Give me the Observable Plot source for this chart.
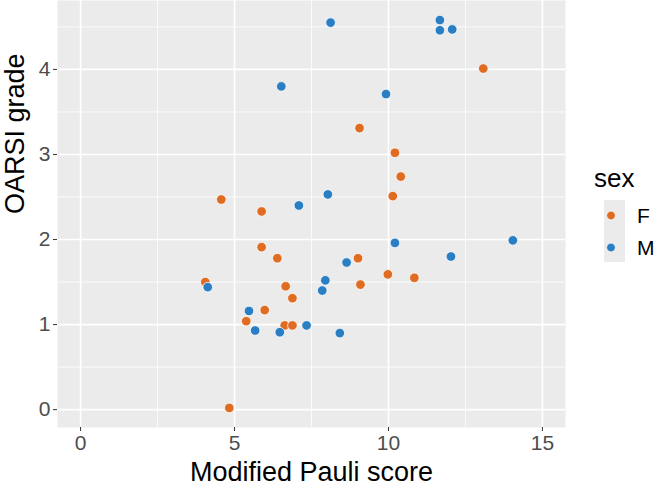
<!DOCTYPE html>
<html>
<head>
<meta charset="utf-8">
<script src="https://cdn.jsdelivr.net/npm/d3@7"></script>
<script src="https://cdn.jsdelivr.net/npm/@observablehq/plot@0.6"></script>
<style>
  html, body { margin: 0; padding: 0; background: #fff; }
  #wrap { position: relative; width: 656px; height: 487px; font-family: "Liberation Sans", Arial, sans-serif; }
  #legend { position: absolute; left: 594px; top: 163px; }
  #legend .title { font-size: 26px; color: #000; line-height: 30px; }
</style>
</head>
<body>
<div id="wrap"></div>
<script>
// Data
const femaleX = [4.57, 5.88, 13.08, 9.06, 10.21, 10.40, 10.14, 5.88, 6.39, 4.05, 6.66, 6.88, 5.98, 5.38, 6.63, 6.88, 4.83, 9.01, 9.09, 9.98, 10.84];
const femaleY = [2.47, 2.33, 4.01, 3.31, 3.02, 2.74, 2.51, 1.91, 1.78, 1.50, 1.45, 1.31, 1.17, 1.04, 0.99, 0.99, 0.02, 1.78, 1.47, 1.59, 1.55];
const maleX = [8.12, 6.52, 7.09, 8.03, 11.67, 11.67, 12.07, 9.92, 4.13, 5.47, 5.67, 6.47, 7.34, 7.95, 7.85, 8.64, 10.21, 12.03, 14.04, 8.42];
const maleY = [4.55, 3.80, 2.40, 2.53, 4.58, 4.46, 4.47, 3.71, 1.44, 1.16, 0.93, 0.91, 0.99, 1.52, 1.40, 1.73, 1.96, 1.80, 1.99, 0.90];
const sexes = ["F", "M"];
const sexColors = ["#E06C22", "#2A7EC3"];
const xTicks = [0, 5, 10, 15];
const xMinor = [2.5, 7.5, 12.5];
const yTicks = [0, 1, 2, 3, 4];
const yMinor = [0.5, 1.5, 2.5, 3.5, 4.5];

const data = [
  ...femaleX.map((x, i) => ({x, y: femaleY[i], sex: "F"})),
  ...maleX.map((x, i) => ({x, y: maleY[i], sex: "M"}))
];

const font = "'Liberation Sans', Arial, sans-serif";

const chart = Plot.plot({
  width: 656,
  height: 487,
  marginLeft: 57,
  marginRight: 91,
  marginTop: 0,
  marginBottom: 60,
  style: { fontFamily: font, background: "white" },
  x: { domain: [-0.75, 15.75] },
  y: { domain: [-0.21, 4.81] },
  color: { domain: sexes, range: sexColors },
  marks: [
    Plot.frame({ fill: "#EBEBEB", stroke: null }),
    Plot.ruleX(xMinor, { stroke: "white", strokeWidth: 0.8 }),
    Plot.ruleY(yMinor, { stroke: "white", strokeWidth: 0.8 }),
    Plot.ruleX(xTicks, { stroke: "white", strokeWidth: 1.6 }),
    Plot.ruleY(yTicks, { stroke: "white", strokeWidth: 1.6 }),
    Plot.axisX({ ticks: xTicks, tickFormat: d => String(d), tickSize: 4, tickPadding: 4, fontSize: 21, stroke: "#333333", fill: "#4D4D4D", label: null }),
    Plot.axisY({ ticks: yTicks, tickFormat: d => String(d), tickSize: 4, tickPadding: 3, fontSize: 21, stroke: "#333333", fill: "#4D4D4D", label: null }),
    Plot.text(["Modified Pauli score"], { frameAnchor: "bottom", dy: 53, fontSize: 27, fill: "black" }),
    Plot.text(["OARSI grade"], { frameAnchor: "left", rotate: -90, dx: -42, fontSize: 27, fill: "black" }),
    Plot.dot(data, { x: "x", y: "y", fill: "sex", r: 4.8, stroke: "white", strokeWidth: 0.8 })
  ]
});

const wrap = document.getElementById("wrap");
wrap.appendChild(chart);

// Legend (to the right of the panel, as in the reference)
const legend = document.createElement("div");
legend.id = "legend";
const title = document.createElement("div");
title.className = "title";
title.textContent = "sex";
legend.appendChild(title);
const ns = "http://www.w3.org/2000/svg";
const svg = document.createElementNS(ns, "svg");
svg.setAttribute("width", 60);
svg.setAttribute("height", 70);
svg.style.display = "block";
svg.style.marginTop = "7px";
const bg = document.createElementNS(ns, "rect");
bg.setAttribute("x", 10); bg.setAttribute("y", 0);
bg.setAttribute("width", 21); bg.setAttribute("height", 62);
bg.setAttribute("fill", "#EBEBEB");
svg.appendChild(bg);
sexes.forEach((s, i) => {
  const cy = 15.5 + i * 32;
  const c = document.createElementNS(ns, "circle");
  c.setAttribute("cx", 17); c.setAttribute("cy", cy); c.setAttribute("r", 4.4);
  c.setAttribute("fill", sexColors[i]); c.setAttribute("stroke", "white"); c.setAttribute("stroke-width", 0.8);
  svg.appendChild(c);
  const t = document.createElementNS(ns, "text");
  t.setAttribute("x", 43); t.setAttribute("y", cy);
  t.setAttribute("dy", "0.36em");
  t.setAttribute("font-size", 21);
  t.setAttribute("font-family", font);
  t.setAttribute("fill", "#000");
  t.textContent = s;
  svg.appendChild(t);
});
legend.appendChild(svg);
wrap.appendChild(legend);
</script>
</body>
</html>
